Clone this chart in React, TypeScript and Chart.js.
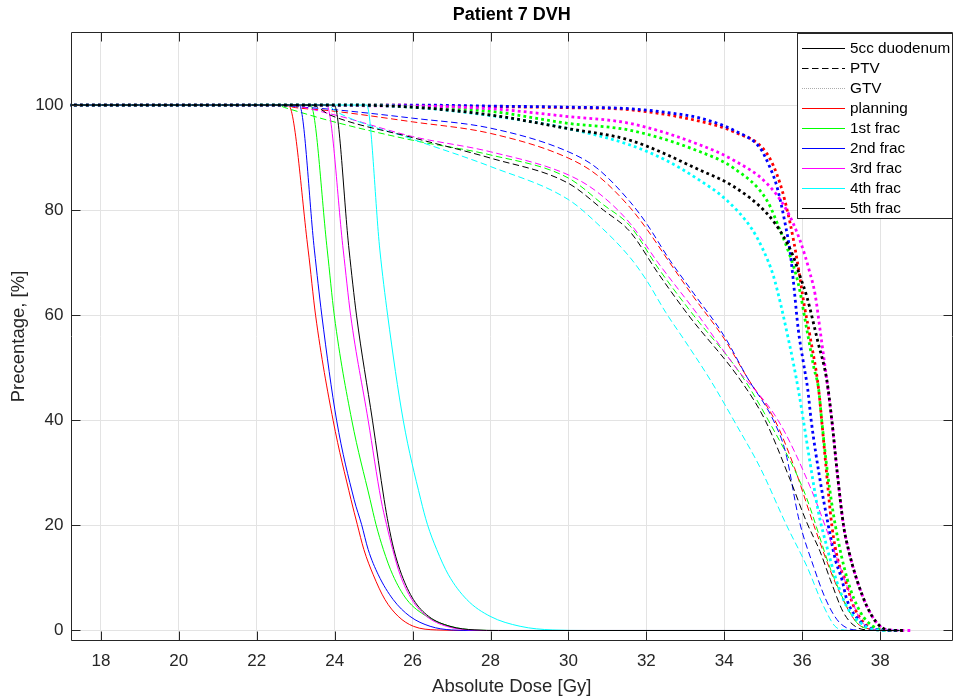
import React, { useEffect, useRef } from 'react';
import { Chart, registerables } from 'chart.js';

Chart.register(...registerables);

const chartTitle = 'Patient 7 DVH';
const xLabel = 'Absolute Dose [Gy]';
const yLabel = 'Precentage, [%]';
const xTicks = [18, 20, 22, 24, 26, 28, 30, 32, 34, 36, 38];
const yTicks = [0, 20, 40, 60, 80, 100];
const xMin = 17.22;
const xMax = 39.87;
const yMin = -2;
const yMax = 113.9;

const fractionNames = ['planning', '1st frac', '2nd frac', '3rd frac', '4th frac', '5th frac'];
const fractionColors = ['#ff0000', '#00ff00', '#0000ff', '#ff00ff', '#00ffff', '#000000'];
const structureNames = ['5cc duodenum', 'PTV', 'GTV'];

// 5cc duodenum (solid)  [dose Gy, %]
const duoPlanning: number[][] = [[17, 100], [22.81, 100], [23.32, 72.4], [23.51, 60], [23.96, 40], [24.42, 24.9], [24.58, 20.2], [24.75, 15.4], [24.99, 10.6], [25.29, 5.9], [25.63, 2.7], [26.02, 0.8], [26.62, 0.1], [27.5, 0], [38.5, 0]];
const duoFrac1: number[][] = [[17, 100], [23.38, 100], [23.81, 72.4], [23.99, 60], [24.44, 40], [24.91, 24.9], [25.06, 20.2], [25.25, 15.4], [25.49, 10.6], [25.85, 5.9], [26.36, 2.7], [26.96, 0.8], [27.6, 0.1], [28.3, 0], [38.5, 0]];
const duoFrac2: number[][] = [[17, 100], [23.09, 100], [23.48, 72.4], [23.67, 60], [24.05, 40], [24.5, 24.9], [24.69, 20.2], [24.86, 15.4], [25.12, 10.6], [25.5, 5.9], [25.93, 2.7], [26.45, 0.8], [27.0, 0.1], [27.6, 0], [38.5, 0]];
const duoFrac3: number[][] = [[17, 100], [23.79, 100], [24.22, 72.4], [24.41, 60], [24.86, 40], [25.19, 24.9], [25.33, 20.2], [25.49, 15.4], [25.68, 10.6], [25.98, 5.9], [26.36, 2.7], [26.87, 0.8], [27.5, 0.1], [28.1, 0], [38.5, 0]];
const duoFrac4: number[][] = [[17, 100], [24.82, 100], [25.16, 72.4], [25.36, 60], [25.76, 40], [26.21, 24.9], [26.38, 20.2], [26.62, 15.4], [26.92, 10.6], [27.39, 5.9], [27.99, 2.7], [28.76, 0.8], [29.6, 0.1], [30.5, 0], [38.5, 0]];
const duoFrac5: number[][] = [[17, 100], [23.99, 100], [24.37, 72.4], [24.56, 60], [24.97, 40], [25.27, 24.9], [25.38, 20.2], [25.52, 15.4], [25.72, 10.6], [26.02, 5.9], [26.41, 2.7], [26.96, 0.8], [27.6, 0.1], [28.2, 0], [38.5, 0]];

// PTV (dashed)
const ptvPlanning: number[][] = [[17, 100], [22.6, 100], [23.0, 99.5], [23.9, 98.9], [26, 96.8], [28, 94.6], [30, 89.9], [30.73, 86.7], [31.58, 80.5], [32.0, 76.5], [32.6, 70], [33.21, 63.5], [34.0, 55.5], [34.6, 48], [35.3, 40], [35.8, 31], [36.3, 20], [36.89, 8.4], [37.4, 1.5], [37.8, 0.2], [38.2, 0]];
const ptvFrac1: number[][] = [[17, 100], [22.5, 100], [22.77, 99.4], [23.88, 97], [26, 93.3], [28, 90.5], [30, 86.1], [30.9, 81], [31.58, 77], [32.3, 69], [33.21, 60], [34.4, 49], [35.13, 40], [36.03, 26.8], [36.8, 10.3], [37.4, 1.5], [37.8, 0.2], [38.1, 0]];
const ptvFrac2: number[][] = [[17, 100], [22.6, 100], [23.0, 99.7], [23.88, 99.2], [26, 97.5], [28, 95.6], [30, 91.1], [30.73, 88], [31.58, 81.6], [32.0, 77.5], [32.6, 70.5], [33.21, 64.2], [34.0, 56], [34.6, 48], [35.26, 40], [35.57, 34], [35.92, 21], [36.29, 12.2], [36.6, 6], [36.89, 2.1], [37.14, 0.5], [37.5, 0]];
const ptvFrac3: number[][] = [[17, 100], [22.7, 100], [23.9, 98.3], [26, 94.0], [28, 91.1], [30, 86.7], [30.73, 83.5], [31.58, 77.5], [32.3, 70], [33.33, 60], [34.3, 50], [35.38, 40], [36.2, 27.4], [36.97, 12.2], [37.49, 2.1], [37.8, 0.3], [38.1, 0]];
const ptvFrac4: number[][] = [[17, 100], [23.8, 100], [24.05, 98.7], [26, 93.5], [28, 88.3], [30, 82], [30.73, 77.5], [31.58, 71], [32.0, 66.7], [32.5, 60.5], [33.0, 55], [33.64, 47.7], [34.32, 39], [34.92, 31], [35.6, 20], [36.12, 12.2], [36.55, 4.6], [36.89, 0.5], [37.2, 0]];
const ptvFrac5: number[][] = [[17, 100], [23.4, 100], [23.88, 98.1], [26, 93.8], [28, 89.9], [30, 85.1], [30.9, 80], [31.58, 75.9], [32.3, 68], [33.08, 60], [34.41, 47.7], [35.05, 40], [35.69, 28.7], [36.12, 20.5], [36.46, 15], [36.72, 9.7], [37.06, 3.4], [37.4, 0.6], [37.8, 0]];

// GTV (dotted)
const gtvPlanning: number[][] = [[17, 100], [25, 100], [28, 99.7], [30, 99.5], [31.58, 99.1], [33.38, 96.9], [34.24, 94.9], [35.09, 90.8], [35.43, 85.1], [35.69, 77.5], [35.88, 70], [36.05, 62], [36.2, 56], [36.42, 46], [36.5, 40], [36.6, 32], [36.76, 20], [36.93, 13], [37.1, 9.7], [37.3, 5], [37.6, 1.3], [38.0, 0.1], [38.6, 0]];
const gtvFrac1: number[][] = [[17, 100], [25, 100], [26, 99.6], [28, 98.8], [30, 96.5], [31.58, 95.2], [33.38, 91.1], [34.24, 88], [35.09, 81.9], [35.43, 76.2], [35.69, 71.2], [35.9, 66], [36.12, 57.2], [36.3, 50], [36.42, 46], [36.5, 40], [36.65, 30], [36.85, 20], [37.16, 9.7], [37.5, 3.4], [37.8, 0.9], [38.1, 0.1], [38.6, 0]];
const gtvFrac2: number[][] = [[17, 100], [26, 100], [28, 99.8], [30, 99.6], [31.58, 99.3], [32.5, 98.6], [33.38, 97.5], [34.24, 95.2], [34.92, 91.8], [35.15, 88.5], [35.35, 84.5], [35.56, 77.5], [35.69, 72], [35.77, 66.7], [35.9, 57.2], [36.03, 51], [36.14, 46], [36.23, 40], [36.45, 29], [36.67, 20], [36.85, 13.5], [37.02, 9.7], [37.14, 6], [37.49, 1.7], [37.9, 0.2], [38.5, 0]];
const gtvFrac3: number[][] = [[17, 100], [26, 99.8], [28, 99.3], [30, 97.8], [31.58, 96.5], [33.38, 92.4], [34.24, 89.5], [35.09, 85.1], [35.6, 80], [35.94, 74.3], [36.2, 68], [36.33, 64], [36.48, 56], [36.63, 47.7], [36.76, 40], [36.9, 30], [37.06, 20], [37.2, 15], [37.4, 9.7], [37.66, 4.6], [37.91, 1.5], [38.2, 0.1], [38.8, 0]];
const gtvFrac4: number[][] = [[17, 100], [24, 100], [26, 99.6], [28, 98], [30, 95.5], [31.58, 92.4], [32.5, 89.5], [33.3, 86], [34.06, 81.9], [34.7, 76.5], [35.0, 72.4], [35.26, 67.5], [35.45, 62], [35.6, 57], [35.77, 51], [35.92, 45], [36.03, 40], [36.2, 32], [36.42, 22.4], [36.63, 16], [36.87, 9.7], [37.14, 4.6], [37.49, 1.5], [37.9, 0.1], [38.5, 0]];
const gtvFrac5: number[][] = [[17, 100], [24, 100], [26, 99.6], [28, 98.1], [30, 95.5], [31.58, 93.3], [33.38, 87.6], [34.24, 84.5], [35.09, 79.4], [35.52, 75], [35.77, 71.2], [35.94, 67.5], [36.12, 63.5], [36.4, 55], [36.63, 47.7], [36.76, 40], [36.9, 30], [37.06, 20], [37.2, 15], [37.4, 9.7], [37.66, 4.6], [37.91, 1.5], [38.2, 0.1], [38.6, 0]];

const duoSeries = [duoPlanning, duoFrac1, duoFrac2, duoFrac3, duoFrac4, duoFrac5];
const ptvSeries = [ptvPlanning, ptvFrac1, ptvFrac2, ptvFrac3, ptvFrac4, ptvFrac5];
const gtvSeries = [gtvPlanning, gtvFrac1, gtvFrac2, gtvFrac3, gtvFrac4, gtvFrac5];

const FONT = '"Liberation Sans", Arial, Helvetica, sans-serif';
const AXIS_COLOR = '#262626';

const DASH_PTV = [6.5, 3.5];
const DASH_GTV = [2.8, 3.2];

const decorPlugin = {
  id: 'decor',
  afterDraw(chart: any) {
    const { ctx, chartArea: a, scales } = chart;
    const L = Math.round(a.left) + 0.5;
    const R = Math.round(a.right) - 0.5;
    const T = Math.round(a.top) + 0.5;
    const B = Math.round(a.bottom) - 0.5;
    ctx.save();
    ctx.strokeStyle = AXIS_COLOR;
    ctx.lineWidth = 1;
    ctx.setLineDash([]);
    ctx.beginPath();
    ctx.rect(L, T, R - L, B - T);
    const tl = 9;
    xTicks.forEach((v) => {
      const x = Math.round(scales.x.getPixelForValue(v)) + 0.5;
      ctx.moveTo(x, B); ctx.lineTo(x, B - tl);
      ctx.moveTo(x, T); ctx.lineTo(x, T + tl);
    });
    yTicks.forEach((v) => {
      const y = Math.round(scales.y.getPixelForValue(v)) + 0.5;
      ctx.moveTo(L, y); ctx.lineTo(L + tl, y);
      ctx.moveTo(R, y); ctx.lineTo(R - tl, y);
    });
    ctx.stroke();

    // title
    ctx.fillStyle = '#000';
    ctx.font = `bold 18px ${FONT}`;
    ctx.textAlign = 'center';
    ctx.textBaseline = 'middle';
    ctx.fillText(chartTitle, (a.left + a.right) / 2, 15);

    // legend
    const items: { label: string; color: string; dash: number[]; width: number }[] = [
      { label: structureNames[0], color: '#000000', dash: [], width: 1 },
      { label: structureNames[1], color: '#000000', dash: DASH_PTV, width: 1 },
      { label: structureNames[2], color: '#888888', dash: [1, 1], width: 0.7 },
      ...fractionNames.map((n, i) => ({ label: n, color: fractionColors[i], dash: [] as number[], width: 1 })),
    ];
    const lx = 797.5;
    const ly = 33.5;
    const lw = R - lx;
    const lh = 185;
    ctx.fillStyle = '#ffffff';
    ctx.fillRect(lx, ly, lw, lh);
    ctx.strokeStyle = AXIS_COLOR;
    ctx.lineWidth = 1;
    ctx.strokeRect(lx, ly, lw, lh);
    ctx.font = `15.3px ${FONT}`;
    ctx.textAlign = 'left';
    ctx.textBaseline = 'middle';
    items.forEach((it, i) => {
      const cy = Math.round(ly + 14 + i * 20.1) + 0.5;
      ctx.save();
      ctx.strokeStyle = it.color;
      ctx.lineWidth = it.width;
      ctx.setLineDash(it.dash);
      ctx.beginPath();
      ctx.moveTo(802, cy);
      ctx.lineTo(845, cy);
      ctx.stroke();
      ctx.restore();
      ctx.fillStyle = '#000000';
      ctx.fillText(it.label, 850, cy);
    });
    ctx.restore();
  },
};

export default function App() {
  const ref = useRef<HTMLCanvasElement | null>(null);
  useEffect(() => {
    document.body.style.margin = '0';
    const canvas = ref.current;
    if (!canvas) return;
    const toXY = (arr: number[][]) => arr.map(([x, y]) => ({ x, y }));
    const datasets: any[] = [];
    fractionNames.forEach((name, i) => {
      datasets.push({
        label: `${name} ${structureNames[0]}`,
        data: toXY(duoSeries[i]),
        borderColor: fractionColors[i],
        borderWidth: 1,
        pointRadius: 0,
        cubicInterpolationMode: 'monotone',
        fill: false,
      });
      datasets.push({
        label: `${name} ${structureNames[1]}`,
        data: toXY(ptvSeries[i]),
        borderColor: fractionColors[i],
        borderWidth: 1,
        borderDash: DASH_PTV,
        pointRadius: 0,
        cubicInterpolationMode: 'monotone',
        fill: false,
      });
      datasets.push({
        label: `${name} ${structureNames[2]}`,
        data: toXY(gtvSeries[i]),
        borderColor: fractionColors[i],
        borderWidth: 2.8,
        borderDash: DASH_GTV,
        borderCapStyle: 'butt',
        pointRadius: 0,
        cubicInterpolationMode: 'monotone',
        fill: false,
      });
    });
    datasets.forEach((d, i) => { d.order = -i; });

    const chart = new Chart(canvas, {
      type: 'line',
      data: { datasets },
      options: {
        animation: false,
        responsive: false,
        maintainAspectRatio: false,
        layout: { padding: { top: 32, right: 2, left: 0, bottom: 0 } },
        plugins: {
          legend: { display: false },
          title: { display: false },
          tooltip: { enabled: false },
        },
        scales: {
          x: {
            type: 'linear',
            min: xMin,
            max: xMax,
            afterBuildTicks: (s: any) => { s.ticks = xTicks.map((v) => ({ value: v })); },
            afterFit: (s: any) => { s.height = 57; },
            grid: { color: '#e3e3e3', drawTicks: false, lineWidth: 1 },
            border: { display: false },
            ticks: {
              color: AXIS_COLOR,
              font: { family: FONT, size: 17 },
              padding: 10,
              maxRotation: 0,
              autoSkip: false,
              callback: (v: any) => String(v),
            },
            title: {
              display: true,
              text: xLabel,
              color: AXIS_COLOR,
              font: { family: FONT, size: 18.5 },
              padding: { top: 0, bottom: 0 },
            },
          },
          y: {
            type: 'linear',
            min: yMin,
            max: yMax,
            afterBuildTicks: (s: any) => { s.ticks = yTicks.map((v) => ({ value: v })); },
            afterFit: (s: any) => { s.width = 70.5; },
            grid: { color: '#e3e3e3', drawTicks: false, lineWidth: 1 },
            border: { display: false },
            ticks: {
              color: AXIS_COLOR,
              font: { family: FONT, size: 17 },
              padding: 7,
              autoSkip: false,
              callback: (v: any) => String(v),
            },
            title: {
              display: true,
              text: yLabel,
              color: AXIS_COLOR,
              font: { family: FONT, size: 18.5 },
              padding: { top: 8, bottom: 0 },
            },
          },
        },
      },
      plugins: [decorPlugin],
    });
    return () => chart.destroy();
  }, []);

  return (
    <div style={{ width: 955, height: 698, background: '#fff' }}>
      <canvas ref={ref} width={955} height={698} style={{ display: 'block' }} />
    </div>
  );
}
